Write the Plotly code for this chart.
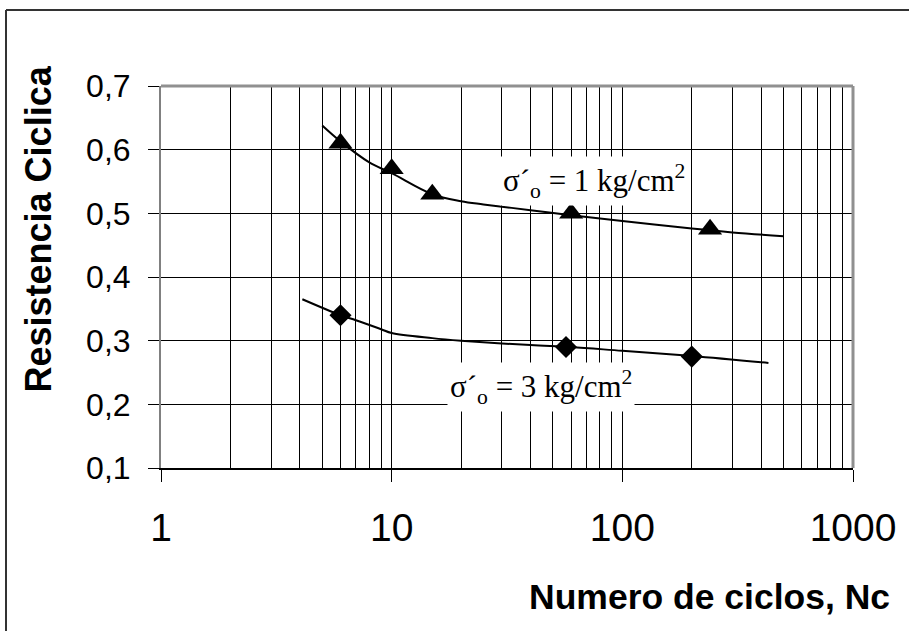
import plotly.graph_objects as go

# ---- data ----
ciclos_1 = [6, 10, 15, 60, 240]
resist_1 = [0.61, 0.57, 0.53, 0.50, 0.475]
ciclos_3 = [6, 57, 200]
resist_3 = [0.34, 0.29, 0.275]

curve1_x = [5, 6, 8, 10, 15, 20, 25, 40, 60, 100, 200, 300, 500]
curve1_y = [0.638, 0.613, 0.58, 0.563, 0.53, 0.519, 0.514, 0.505, 0.497, 0.488, 0.476, 0.47, 0.464]
curve3_x = [4.1, 6, 7, 9, 10, 15, 20, 40, 60, 100, 200, 430]
curve3_y = [0.365, 0.340, 0.332, 0.318, 0.312, 0.304, 0.300, 0.293, 0.290, 0.284, 0.276, 0.265]

x_tickvals = [1, 10, 100, 1000]
x_ticktext = ["1", "10", "100", "1000"]
x_minor = [m * d for d in (1, 10, 100) for m in range(2, 10)]
y_tickvals = [0.1, 0.2, 0.3, 0.4, 0.5, 0.6, 0.7]
y_ticktext = ["0,1", "0,2", "0,3", "0,4", "0,5", "0,6", "0,7"]

label_1 = "σ´<sub>o</sub> = 1 kg/cm<sup>2</sup>"
label_3 = "σ´<sub>o</sub> = 3 kg/cm<sup>2</sup>"
x_title = "Numero de ciclos, Nc"
y_title = "Resistencia Ciclica"

W, H = 909, 631
L, T = 161, 86
R = W - 853
B = H - 468
PW, PH = W - L - R, H - T - B


def px(sx):  # screen x -> paper
    return (sx - L) / PW


def py(sy):  # screen y -> paper
    return ((H - B) - sy) / PH


fig = go.Figure()
fig.add_trace(go.Scatter(x=curve1_x, y=curve1_y, mode="lines", line=dict(color="black", width=2, shape="spline"),
                         showlegend=False, hoverinfo="skip"))
fig.add_trace(go.Scatter(x=curve3_x, y=curve3_y, mode="lines", line=dict(color="black", width=2, shape="spline"),
                         showlegend=False, hoverinfo="skip"))
fig.add_trace(go.Scatter(x=ciclos_1, y=resist_1, mode="markers",
                         marker=dict(symbol="triangle-up", size=21, color="black"), showlegend=False))
fig.add_trace(go.Scatter(x=ciclos_3, y=resist_3, mode="markers",
                         marker=dict(symbol="diamond", size=17, color="black"), showlegend=False))

fig.update_xaxes(type="log", range=[0, 3], tickmode="array", tickvals=x_tickvals, ticktext=x_ticktext,
                 showgrid=True, gridcolor="black", gridwidth=1,
                 minor=dict(tickmode="array", tickvals=x_minor, showgrid=True, gridcolor="black", gridwidth=1, ticks=""),
                 ticks="outside", ticklen=12, tickcolor="black", tickwidth=1,
                 showline=True, linecolor="black", linewidth=2, zeroline=False, ticklabeloverflow="allow",
                 tickfont=dict(family="Liberation Sans", size=39, color="black"), ticklabelstandoff=12)
fig.update_yaxes(range=[0.1, 0.7], tickmode="array", tickvals=y_tickvals, ticktext=y_ticktext,
                 showgrid=True, gridcolor="black", gridwidth=1,
                 ticks="outside", ticklen=11, tickcolor="black", tickwidth=1,
                 showline=True, linecolor="#808080", linewidth=2, zeroline=False,
                 tickfont=dict(family="Liberation Sans", size=32, color="black"), ticklabelstandoff=11)

# plot-area border (gray) on top and right
fig.add_shape(type="line", xref="paper", yref="paper", x0=0, x1=1, y0=1, y1=1,
              line=dict(color="#909090", width=3), layer="above")
fig.add_shape(type="line", xref="paper", yref="paper", x0=1, x1=1, y0=0, y1=1,
              line=dict(color="#909090", width=3), layer="above")
# outer frame: top and left edges visible
fig.add_shape(type="line", xref="paper", yref="paper", x0=px(6), x1=px(W + 5), y0=py(10), y1=py(10),
              line=dict(color="#333333", width=2))
fig.add_shape(type="line", xref="paper", yref="paper", x0=px(6), x1=px(6), y0=py(H + 5), y1=py(10),
              line=dict(color="#333333", width=2))

ann_font = dict(family="Liberation Serif", size=31, color="black")
fig.add_annotation(x=px(594), y=py(181), xref="paper", yref="paper", text=label_1, showarrow=False,
                   font=ann_font, bgcolor="white", borderpad=2, xanchor="center", yanchor="middle")
fig.add_annotation(x=px(541), y=py(387), xref="paper", yref="paper", text=label_3, showarrow=False,
                   font=ann_font, bgcolor="white", borderpad=2, xanchor="center", yanchor="middle")

title_font = dict(family="Liberation Sans", size=35.5, color="black", weight="bold")
fig.add_annotation(x=px(709), y=py(597), xref="paper", yref="paper",
                   text=f"<b>{x_title}</b>", showarrow=False, font=title_font, xanchor="center", yanchor="middle")
fig.add_annotation(x=px(37.5), y=py(229), xref="paper", yref="paper",
                   text=f"<b>{y_title}</b>", showarrow=False, font=dict(title_font, size=36), textangle=-90,
                   xanchor="center", yanchor="middle")

fig.update_layout(width=W, height=H, autosize=False, margin=dict(l=L, r=R, t=T, b=B),
                  paper_bgcolor="white", plot_bgcolor="white", showlegend=False)

# remove the default page margin so the 909x631 figure fills the window exactly
fig.write_html("out.html", config={"displayModeBar": False},
               post_script="document.body.style.margin='0';document.body.style.overflow='hidden';")
